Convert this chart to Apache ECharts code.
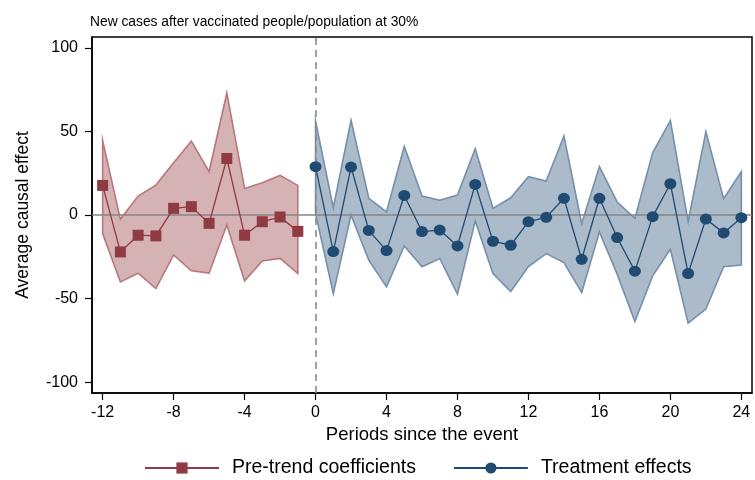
<!DOCTYPE html>
<html>
<head>
<meta charset="utf-8">
<script src="https://cdn.jsdelivr.net/npm/echarts@6/dist/echarts.min.js"></script>
<style>html,body{margin:0;padding:0;background:#fff}#c{width:755px;height:480px}</style>
</head>
<body>
<div id="c"></div>
<script>
var prePeriods = [-12,-11,-10,-9,-8,-7,-6,-5,-4,-3,-2,-1];
var preCoef  = [17.7,-22.1,-12.1,-12.5,4.0,5.0,-5.0,33.8,-12.1,-4.0,-1.2,-9.8];
var preUpper = [44.6,-2.6,11.3,17.9,31.2,44.2,25.9,73.0,15.9,19.3,23.7,17.7];
var preLower = [-11.1,-40.0,-34.8,-44.0,-23.9,-33.4,-34.8,-6.0,-39.4,-27.5,-26.0,-35.0];

var postPeriods = [0,1,2,3,4,5,6,7,8,9,10,11,12,13,14,15,16,17,18,19,20,21,22,23,24];
var postCoef  = [28.9,-21.9,28.7,-9.2,-21.3,11.7,-9.9,-9.0,-18.5,18.3,-15.7,-18.1,-4.0,-1.4,10.0,-26.5,10.0,-13.5,-33.6,-1.0,18.7,-35.0,-2.4,-10.7,-1.6];
var postUpper = [56.1,4.4,56.7,10.0,1.8,41.0,11.3,8.8,11.9,39.6,4.0,10.3,22.9,20.3,47.2,-5.2,29.0,7.8,-2.0,37.2,56.5,-4.0,49.8,9.8,25.9];
var postLower = [1.0,-47.0,0.0,-27.0,-43.0,-18.5,-31.0,-26.0,-47.4,-3.6,-35.0,-45.8,-30.8,-23.1,-28.5,-46.4,-10.1,-35.4,-63.7,-36.4,-20.5,-64.7,-56.3,-31.0,-29.9];

var xTicks = [-12,-8,-4,0,4,8,12,16,20,24];
var yTicks = [-100,-50,0,50,100];

var titleText = 'New cases after vaccinated people/population at 30%';
var xName = 'Periods since the event';
var yName = 'Average causal effect';
var preName = 'Pre-trend coefficients';
var postName = 'Treatment effects';

var FONT = '"Liberation Sans", Arial, sans-serif';

function bandSeries(periods, lower, upper, fill, edge) {
  var data = periods.map(function (p, i) { return [p, lower[i], upper[i]]; });
  return {
    type: 'custom',
    z: 1,
    silent: true,
    data: data,
    encode: { x: 0, y: [1, 2] },
    renderItem: function (params, api) {
      if (params.dataIndex !== 0) return null;
      var pts = [];
      for (var i = 0; i < periods.length; i++) pts.push(api.coord([periods[i], upper[i]]));
      for (var j = periods.length - 1; j >= 0; j--) pts.push(api.coord([periods[j], lower[j]]));
      return {
        type: 'polygon',
        shape: { points: pts },
        style: { fill: fill, stroke: edge, lineWidth: 1.6, lineJoin: 'miter' }
      };
    }
  };
}

var chart = echarts.init(document.getElementById('c'));
chart.setOption({
  animation: false,
  backgroundColor: '#fff',
  textStyle: { fontFamily: FONT },
  title: {
    text: titleText, left: 85, top: 10,
    textStyle: { fontFamily: FONT, fontSize: 13.8, fontWeight: 'normal', color: '#000' }
  },
  grid: { left: 92, right: 3, top: 37, bottom: 87, show: true, borderColor: '#000', borderWidth: 1.5, containLabel: false },
  xAxis: {
    type: 'value', min: -12.6, max: 24.6,
    name: xName, nameLocation: 'middle', nameGap: 24,
    nameTextStyle: { fontFamily: FONT, fontSize: 18.5, color: '#000' },
    axisLine: { show: true, onZero: false, lineStyle: { color: '#000', width: 1.5 } },
    axisTick: { show: true, customValues: xTicks, length: 7, lineStyle: { color: '#000', width: 1.2 } },
    axisLabel: { customValues: xTicks, margin: 12, fontFamily: FONT, fontSize: 16, color: '#000' },
    splitLine: { show: false }
  },
  yAxis: {
    type: 'value', min: -106.5, max: 106.5,
    name: yName, nameLocation: 'middle', nameGap: 60, nameRotate: 90,
    nameTextStyle: { fontFamily: FONT, fontSize: 17.5, color: '#000' },
    axisLine: { show: true, onZero: false, lineStyle: { color: '#000', width: 1.5 } },
    axisTick: { show: true, customValues: yTicks, length: 7, lineStyle: { color: '#000', width: 1.2 } },
    axisLabel: { customValues: yTicks, margin: 14, fontFamily: FONT, fontSize: 16, color: '#000' },
    splitLine: { show: false }
  },
  legend: {
    data: [preName, postName],
    left: 139, top: 453,
    itemWidth: 74, itemHeight: 14, itemGap: 37,
    textStyle: { fontFamily: FONT, fontSize: 19.5, color: '#000', padding: [0, 0, 0, 8] }
  },
  series: [
    bandSeries(prePeriods, preLower, preUpper, 'rgba(144,53,59,0.38)', '#b8787d'),
    bandSeries(postPeriods, postLower, postUpper, 'rgba(26,71,111,0.37)', '#7490aa'),
    {
      type: 'line', z: 3, data: [], silent: true,
      markLine: {
        silent: true, symbol: 'none', label: { show: false },
        data: [
          { yAxis: 0, lineStyle: { color: '#858585', width: 1.6, type: 'solid' } },
          { xAxis: 0, lineStyle: { color: '#8a8a8a', width: 1.6, type: [7, 5] } }
        ]
      }
    },
    {
      name: preName, type: 'line', z: 5,
      data: prePeriods.map(function (p, i) { return [p, preCoef[i]]; }),
      symbol: 'rect', symbolSize: 11,
      itemStyle: { color: '#903A41' },
      lineStyle: { color: '#903A41', width: 1.3 }
    },
    {
      name: postName, type: 'line', z: 5,
      data: postPeriods.map(function (p, i) { return [p, postCoef[i]]; }),
      symbol: 'circle', symbolSize: [12, 11],
      itemStyle: { color: '#1F4A72' },
      lineStyle: { color: '#1F4A72', width: 1.3 }
    }
  ]
});
</script>
</body>
</html>
